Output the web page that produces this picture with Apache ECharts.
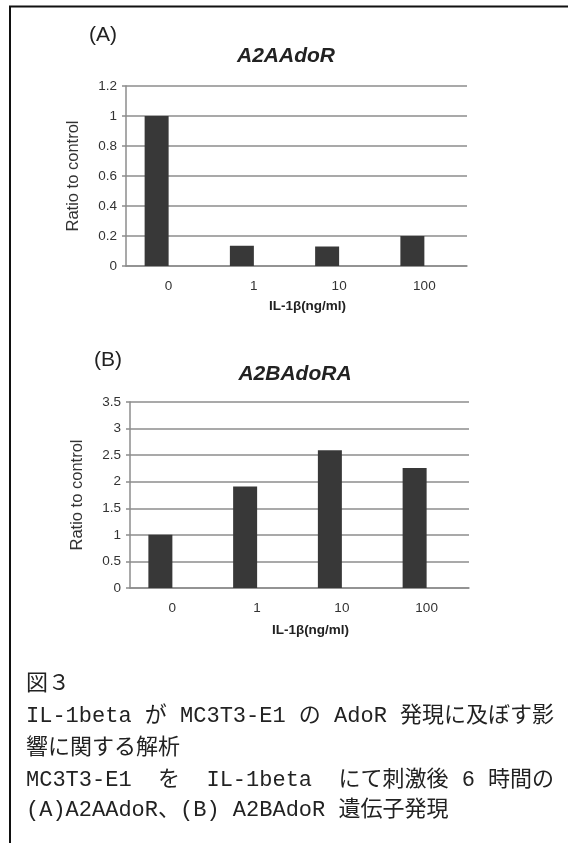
<!DOCTYPE html>
<html>
<head>
<meta charset="utf-8">
<script src="https://cdn.jsdelivr.net/npm/echarts@6/dist/echarts.min.js"></script>
<style>
html,body{margin:0;padding:0;background:#fff;}
#chart{width:568px;height:843px;}
</style>
</head>
<body>
<div id="chart"></div>
<script>
// ---- data ----
var categories = ['0', '1', '10', '100'];
var a2aValues = [1.0, 0.135, 0.13, 0.2];
var a2bValues = [1.0, 1.91, 2.59, 2.26];
var titleA = 'A2AAdoR';
var titleB = 'A2BAdoRA';
var panelA = '(A)';
var panelB = '(B)';
var xName = 'IL-1β(ng/ml)';
var yName = 'Ratio to control';
var captionLines = [
  '図３',
  'IL-1beta が MC3T3-E1 の AdoR 発現に及ぼす影',
  '響に関する解析',
  'MC3T3-E1  を  IL-1beta  にて刺激後 6 時間の',
  '(A)A2AAdoR、(B) A2BAdoR 遺伝子発現'
];
var emptySeries = [null, null, null, null];

var chart = echarts.init(document.getElementById('chart'), null, {renderer: 'canvas'});
var sans = '"Liberation Sans", Arial, sans-serif';
var capFont = '"Liberation Mono", "Noto Sans CJK JP", monospace';

function yAxisCfg(gridIndex, max, interval) {
  return {
    type: 'value', gridIndex: gridIndex, min: 0, max: max, interval: interval,
    axisLine: {show: true, lineStyle: {color: '#8c8c8c', width: 1.5}},
    axisTick: {show: true, length: 4, lineStyle: {color: '#8c8c8c', width: 1.5}},
    splitLine: {show: true, lineStyle: {color: '#8c8c8c', width: 1.5}},
    axisLabel: {color: '#333', fontSize: 13.5, fontFamily: sans, margin: 9},
    name: yName, nameLocation: 'middle', nameRotate: 90,
    nameGap: 44,
    nameTextStyle: {color: '#333', fontSize: 16.5, fontFamily: sans}
  };
}
function xAxisCfg(gridIndex, gap) {
  return {
    type: 'category', gridIndex: gridIndex, data: categories,
    axisLine: {show: true, lineStyle: {color: '#8c8c8c', width: 1.5}},
    axisTick: {show: false},
    axisLabel: {color: '#333', fontSize: 13.5, fontFamily: sans, margin: 13},
    name: xName, nameLocation: 'middle', nameGap: gap,
    nameTextStyle: {color: '#222', fontSize: 13.5, fontWeight: 'bold', fontFamily: sans, padding: [0, 0, 0, 22]}
  };
}
function barSeries(idx, data) {
  return {
    type: 'bar', xAxisIndex: idx, yAxisIndex: idx, data: data,
    barWidth: 24, barGap: '0%',
    itemStyle: {color: '#383838'}, silent: true, animation: false
  };
}

var graphics = [
  {type: 'line', shape: {x1: 9, y1: 6.5, x2: 568, y2: 6.5}, style: {stroke: '#111', lineWidth: 2}},
  {type: 'line', shape: {x1: 10, y1: 6, x2: 10, y2: 843}, style: {stroke: '#111', lineWidth: 2}}
];
var capY = [685, 717, 749, 781, 811];
for (var i = 0; i < captionLines.length; i++) {
  graphics.push({
    type: 'text', left: 26, top: capY[i] - 12,
    style: {text: captionLines[i], font: '22px ' + capFont, fill: '#222'}
  });
}

var option = {
  animation: false,
  backgroundColor: '#fff',
  title: [
    {text: panelA, left: 84, top: 20, textStyle: {fontSize: 21, fontWeight: 'normal', color: '#222', fontFamily: sans}},
    {text: titleA, left: 281, top: 41, textAlign: 'center', textStyle: {fontSize: 21, fontWeight: 'bold', fontStyle: 'italic', color: '#222', fontFamily: sans}},
    {text: panelB, left: 89, top: 345, textStyle: {fontSize: 21, fontWeight: 'normal', color: '#222', fontFamily: sans}},
    {text: titleB, left: 290, top: 359, textAlign: 'center', textStyle: {fontSize: 21, fontWeight: 'bold', fontStyle: 'italic', color: '#222', fontFamily: sans}}
  ],
  grid: [
    {left: 126, right: 101, top: 86, bottom: 577, containLabel: false},
    {left: 130, right: 99, top: 402, bottom: 255, containLabel: false}
  ],
  xAxis: [xAxisCfg(0, 33), xAxisCfg(1, 35)],
  yAxis: [yAxisCfg(0, 1.2, 0.2), yAxisCfg(1, 3.5, 0.5)],
  series: [
    barSeries(0, a2aValues), barSeries(0, emptySeries),
    barSeries(1, a2bValues), barSeries(1, emptySeries)
  ],
  graphic: graphics
};
chart.setOption(option);
</script>
</body>
</html>
